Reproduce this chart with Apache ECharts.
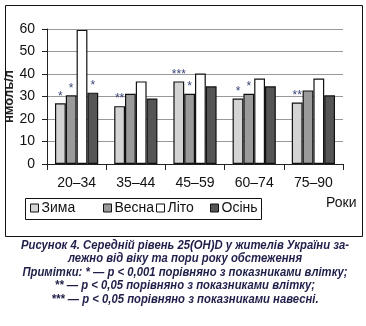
<!DOCTYPE html>
<html>
<head>
<meta charset="utf-8">
<script src="https://cdn.jsdelivr.net/npm/echarts@6/dist/echarts.min.js"></script>
<style>html,body{margin:0;padding:0;background:#fff}#c{width:366px;height:326px}</style>
</head>
<body>
<div id="c"></div>
<script>
const categories = ['20–34', '35–44', '45–59', '60–74', '75–90'];
const seriesNames = ['Зима', 'Весна', 'Літо', 'Осінь'];
const zima  = [27, 25.7, 36.7, 29.1, 27.3];
const vesna = [30.5, 31.2, 31.2, 31.2, 32.7];
const lito  = [59.6, 36.7, 40.2, 38, 38];
const osin  = [31.7, 29.1, 34.5, 34.5, 30.5];
const zimaMarks  = ['*', '**', '***', '*', '**'];
const vesnaMarks = ['*', '', '*', '*', ''];
const litoMarks  = ['', '', '', '', ''];
const osinMarks  = ['*', '', '', '', ''];
const yTicks = [0, 10, 20, 30, 40, 50, 60];
const captionLines = [
  'Рисунок 4. Середній рівень 25(OH)D у жителів України за-',
  'лежно від віку та пори року обстеження',
  'Примітки: * — p < 0,001 порівняно з показниками влітку;',
  '** — p < 0,05 порівняно з показниками влітку;',
  '*** — p < 0,05 порівняно з показниками навесні.'
];

const colors = ['#d4d4d4', '#9a9a9a', '#ffffff', '#555555'];
const values = [zima, vesna, lito, osin];
const marks = [zimaMarks, vesnaMarks, litoMarks, osinMarks];
const legendLefts = [30, 103, 156, 210];

const chart = echarts.init(document.getElementById('c'), null, {renderer: 'canvas'});
const font = "'Liberation Sans', Arial, sans-serif";
const capFontStr = "italic bold 13.5px 'Liberation Sans', Arial, sans-serif";

// horizontal condensing factor for the caption (reference uses a narrow face)
const mctx = document.createElement('canvas').getContext('2d');
mctx.font = capFontStr;
const capScale = 328 / mctx.measureText(captionLines[0]).width;

const graphics = [
  {type: 'rect', shape: {x: 5.5, y: 5.5, width: 357, height: 231}, style: {fill: 'none', stroke: '#111', lineWidth: 1}, silent: true},
  {type: 'rect', shape: {x: 25.5, y: 198.5, width: 236, height: 21}, style: {fill: 'none', stroke: '#111', lineWidth: 1}, silent: true},
  {type: 'text', x: 326, y: 203, style: {text: 'Роки', font: '14px ' + font, fill: '#111', textVerticalAlign: 'middle'}}
];
captionLines.forEach(function (t, i) {
  graphics.push({
    type: 'text', x: 185, y: 252 + i * 13.5, scaleX: capScale,
    style: {text: t, font: capFontStr, fill: '#1f1f4a', textAlign: 'center', textVerticalAlign: 'bottom'}
  });
});

chart.setOption({
  animation: false,
  textStyle: {fontFamily: font},
  grid: {left: 47, right: 23, top: 29, bottom: 162, containLabel: false, outerBoundsMode: 'none'},
  legend: seriesNames.map(function (n, i) {
    return {
      left: legendLefts[i], top: 201,
      padding: 0,
      itemWidth: 8, itemHeight: 8, itemGap: 0,
      icon: 'rect',
      itemStyle: {borderColor: '#111', borderWidth: 1},
      textStyle: {fontSize: 14, color: '#111', fontFamily: font, padding: [0, 0, 0, -2]},
      data: [n]
    };
  }),
  xAxis: {
    type: 'category',
    data: categories,
    axisLine: {lineStyle: {color: '#222', width: 1}},
    axisTick: {show: true, length: 6, lineStyle: {color: '#222'}},
    axisLabel: {fontSize: 14, color: '#111', margin: 12, fontFamily: font}
  },
  yAxis: {
    type: 'value',
    min: 0, max: 60, interval: 10,
    name: 'нмоль/л',
    nameLocation: 'middle',
    nameRotate: 90,
    nameGap: 31,
    nameMoveOverlap: false,
    nameTextStyle: {fontSize: 13, fontWeight: 'bold', color: '#222', fontFamily: font},
    axisLine: {show: true, lineStyle: {color: '#222', width: 1}},
    axisTick: {show: true, length: 5, lineStyle: {color: '#222'}},
    axisLabel: {fontSize: 14, color: '#111', margin: 12, fontFamily: font,
      formatter: function (v) { return yTicks.indexOf(v) >= 0 ? String(v) : ''; }},
    splitLine: {show: true, lineStyle: {color: '#999', width: 1}}
  },
  series: seriesNames.map(function (n, i) {
    return {
      name: n,
      type: 'bar',
      data: values[i],
      barGap: 0,
      barCategoryGap: '27%',
      itemStyle: {color: colors[i], borderColor: '#111', borderWidth: 1.2},
      label: {
        show: true, position: 'top', distance: 1,
        fontSize: 12, color: '#3b4675', fontFamily: font,
        formatter: function (p) { return marks[i][p.dataIndex]; }
      }
    };
  }),
  graphic: graphics
});
</script>
</body>
</html>
